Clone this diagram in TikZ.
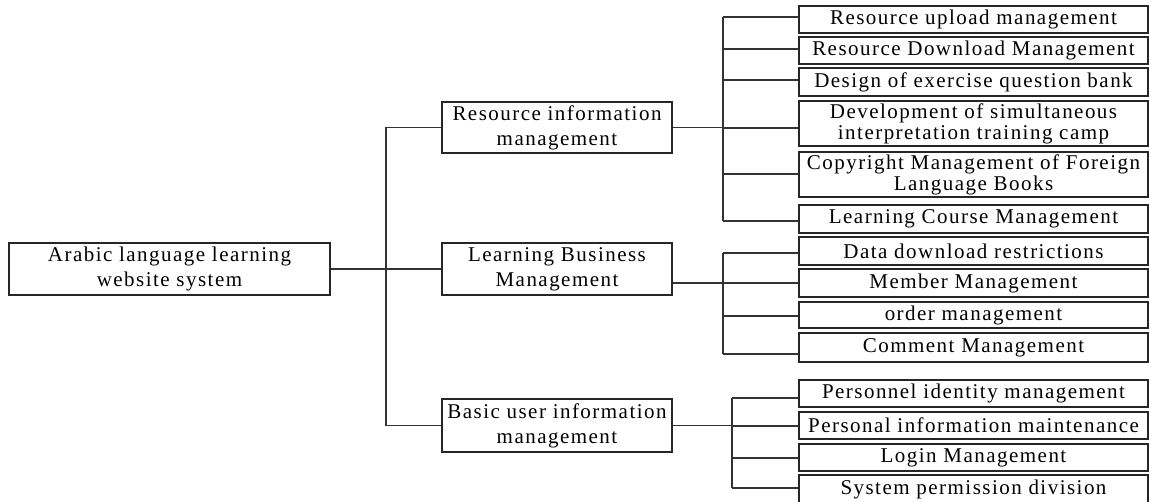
\documentclass[tikz,border=0pt]{standalone}
\usepackage{fontspec}
\setmainfont{Liberation Serif}[LetterSpace=7]
\begin{document}
\begin{tikzpicture}[x=1pt,y=-1pt,
  box/.style={draw=black!85, line width=1.4pt, fill=white, inner sep=0pt, align=center,
    font=\fontsize{21}{21}\selectfont, text=black},
  rootbox/.style={box, minimum width=321pt, minimum height=52pt, font=\fontsize{21}{25}\selectfont},
  midbox/.style={box, minimum width=230pt, font=\fontsize{21}{25}\selectfont},
  leafbox/.style={box, minimum width=349pt},
  conn/.style={draw=black!80, line width=1.4pt}]
\useasboundingbox (0,0) rectangle (1149,501);
\clip (0,0) rectangle (1149,501);

% root and level 1
\node[rootbox] (root) at (169.5,269) {Arabic language learning\\website system};
\node[midbox, minimum height=51pt] (res) at (557,127.5) {Resource information\\management};
\node[midbox, minimum height=52pt] (learn) at (557,269) {Learning Business\\Management};
\node[midbox, minimum height=53pt] (basic) at (557,425.5) {Basic user information\\management};

% leaves
\node[leafbox, minimum height=27pt] (c1) at (973.5,19.5) {Resource upload management};
\node[leafbox, minimum height=27pt] (c2) at (973.5,50.5) {Resource Download Management};
\node[leafbox, minimum height=28pt] (c3) at (973.5,82) {Design of exercise question bank};
\node[leafbox, minimum height=45pt] (c4) at (973.5,123.5) {Development of simultaneous\\interpretation training camp};
\node[leafbox, minimum height=45pt] (c5) at (973.5,174.5) {Copyright Management of Foreign\\Language Books};
\node[leafbox, minimum height=28pt] (c6) at (973.5,219) {Learning Course Management};
\node[leafbox, minimum height=28pt] (c7) at (973.5,251) {Data download restrictions};
\node[leafbox, minimum height=28pt] (c8) at (973.5,283) {Member Management};
\node[leafbox, minimum height=26pt] (c9) at (973.5,315) {order management};
\node[leafbox, minimum height=29pt] (c10) at (973.5,347.5) {Comment Management};
\node[leafbox, minimum height=27pt] (c11) at (973.5,393.5) {Personnel identity management};
\node[leafbox, minimum height=27pt] (c12) at (973.5,425.5) {Personal information maintenance};
\node[leafbox, minimum height=27pt] (c13) at (973.5,457.5) {Login Management};
\node[leafbox, minimum height=28pt] (c14) at (973.5,489) {System permission division};

% trunk coordinates
\coordinate (j0) at (386,269);
\coordinate (a1) at (723,17);
\coordinate (a2) at (723,49);
\coordinate (a3) at (723,80);
\coordinate (a4) at (723,128);
\coordinate (a5) at (723,174);
\coordinate (a6) at (723,221);
\coordinate (a7) at (723,253);
\coordinate (a8) at (723,283);
\coordinate (a9) at (723,316);
\coordinate (a10) at (723,354);
\coordinate (a11) at (732,398);
\coordinate (a12) at (732,426);
\coordinate (a13) at (732,458);
\coordinate (a14) at (732,488);

% level 0 -> 1
\draw[conn] (root.east) -- (learn.west);
\draw[conn] (res.west) -| (j0) |- (basic.west);

% level 1 -> leaves
\draw[conn] (res.east) -- (res.east -| c4.west);
\draw[conn] (learn.east |- a8) -- (a8);
\draw[conn] (basic.east) -- (basic.east -| c12.west);
\draw[conn] (a1) -- (a6);
\draw[conn] (a7) -- (a10);
\draw[conn] (a11) -- (a14);
\foreach \i in {1,...,14} {
  \draw[conn] (a\i) -- (a\i -| c\i.west);
}
\end{tikzpicture}
\end{document}
